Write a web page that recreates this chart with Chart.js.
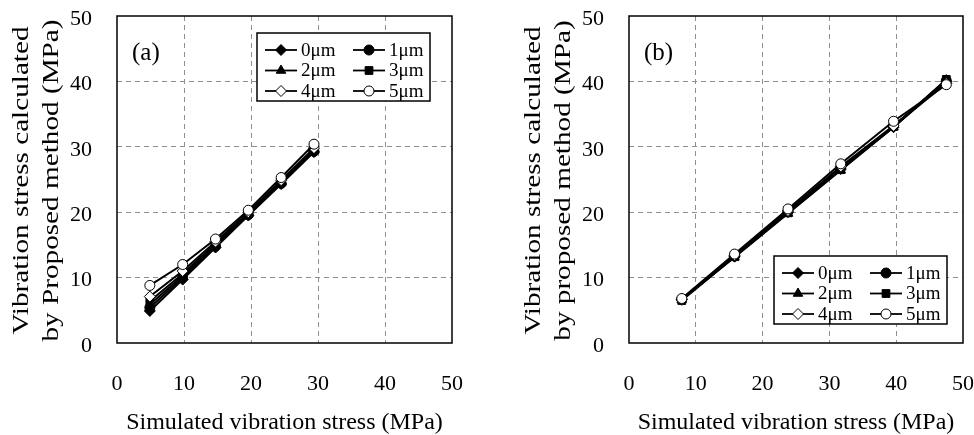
<!DOCTYPE html>
<html>
<head>
<meta charset="utf-8">
<script src="https://cdn.jsdelivr.net/npm/chart.js@4.4.1/dist/chart.umd.min.js"></script>
<style>
  html, body { margin: 0; padding: 0; background: #fff; }
  #wrap { position: relative; width: 974px; height: 435px; }
  canvas { position: absolute; top: 0; }
  #chartA { left: 0; }
  #chartB { left: 487px; }
</style>
</head>
<body>
<div id="wrap">
  <canvas id="chartA" width="487" height="435"></canvas>
  <canvas id="chartB" width="487" height="435"></canvas>
</div>
<script>
// gap sizes (legend labels) and shared axis ticks
const gapLabels = ['0μm', '1μm', '2μm', '3μm', '4μm', '5μm'];
const axisTicks = [0, 10, 20, 30, 40, 50];

// panel (a): simulated stress and calculated stress for each gap
const simulatedA = [4.9, 9.8, 14.7, 19.6, 24.5, 29.4];
const calcA_0um = [4.9, 9.7, 14.6, 19.5, 24.3, 29.2];
const calcA_1um = [5.4, 10.0, 14.8, 19.6, 24.4, 29.3];
const calcA_2um = [5.9, 10.3, 15.0, 19.7, 24.5, 29.4];
const calcA_3um = [6.4, 10.6, 15.2, 19.8, 24.6, 29.5];
const calcA_4um = [7.1, 11.0, 15.5, 20.0, 24.9, 29.8];
const calcA_5um = [8.8, 12.0, 15.9, 20.3, 25.3, 30.4];

// panel (b)
const simulatedB = [7.9, 15.8, 23.8, 31.7, 39.6, 47.5];
const calcB_0um = [6.6, 13.2, 20.0, 26.6, 33.0, 40.0];
const calcB_1um = [6.7, 13.3, 20.1, 26.8, 33.2, 40.1];
const calcB_2um = [6.6, 13.1, 19.8, 26.4, 33.0, 40.2];
const calcB_3um = [6.5, 13.2, 19.9, 26.5, 33.1, 40.3];
const calcB_4um = [6.7, 13.4, 20.2, 27.0, 33.2, 39.7];
const calcB_5um = [6.8, 13.6, 20.5, 27.4, 33.9, 39.5];

// marker look per gap: filled diamond, circle, triangle, square, then open diamond, circle
const markerStyles = ['rectRot', 'circle', 'triangle', 'rect', 'rectRot', 'circle'];
const markerFills = ['#000', '#000', '#000', '#000', '#fff', '#fff'];
const markerSizes = [5.5, 5, 5.5, 5.5, 5.5, 5];

const FONT = '"Liberation Serif", "Times New Roman", serif';

function buildDatasets(xs, series) {
  return series.map((ys, i) => ({
    label: gapLabels[i],
    data: xs.map((x, k) => ({ x: x, y: ys[k] })),
    borderColor: '#000',
    borderWidth: 2,
    pointStyle: markerStyles[i],
    pointRadius: markerSizes[i],
    pointBackgroundColor: markerFills[i],
    pointBorderColor: '#000',
    pointBorderWidth: 1,
    showLine: true,
    order: series.length - i   // open circles end up on top
  }));
}

// frame, panel letter, two-line rotated y title and boxed legend
const panelDecor = {
  id: 'panelDecor',
  afterDraw(chart, args, opts) {
    const { ctx, chartArea: a } = chart;
    ctx.save();
    ctx.strokeStyle = '#000';
    ctx.lineWidth = 1.5;
    ctx.strokeRect(a.left, a.top, a.right - a.left, a.bottom - a.top);

    ctx.fillStyle = '#000';
    ctx.font = '25px ' + FONT;
    ctx.textAlign = 'left';
    ctx.textBaseline = 'middle';
    ctx.fillText(opts.label, a.left + 15, a.top + 37);

    // y title, stretched along the axis
    ctx.font = '23px ' + FONT;
    ctx.textAlign = 'center';
    ctx.textBaseline = 'alphabetic';
    const cy = (a.top + a.bottom) / 2 + 1;
    opts.yTitle.forEach((line, i) => {
      ctx.save();
      ctx.translate(a.left - 89 + i * 30, cy);
      ctx.rotate(-Math.PI / 2);
      ctx.scale(1.27, 1);
      ctx.fillText(line, 0, 0);
      ctx.restore();
    });

    // legend box
    const bx = a.left + opts.legendX, by = a.top + opts.legendY;
    ctx.fillStyle = '#fff';
    ctx.fillRect(bx, by, 173, 68);
    ctx.strokeStyle = '#000';
    ctx.lineWidth = 1.5;
    ctx.strokeRect(bx, by, 173, 68);
    ctx.font = '19px ' + FONT;
    ctx.textAlign = 'left';
    ctx.textBaseline = 'middle';
    chart.data.datasets.forEach((ds, i) => {
      const lx = bx + (i % 2 ? 96 : 8);
      const ly = by + 17 + Math.floor(i / 2) * 20.5;
      ctx.strokeStyle = '#000';
      ctx.lineWidth = 1.8;
      ctx.beginPath();
      ctx.moveTo(lx, ly);
      ctx.lineTo(lx + 32, ly);
      ctx.stroke();
      ctx.fillStyle = ds.pointBackgroundColor;
      ctx.lineWidth = 1;
      Chart.helpers.drawPoint(ctx, { pointStyle: ds.pointStyle, radius: ds.pointRadius, borderWidth: 1, rotation: 0 }, lx + 16, ly);
      ctx.fillStyle = '#000';
      ctx.fillText(ds.label, lx + 36, ly + 1);
    });
    ctx.restore();
  }
};

function gridColor(c) {
  return (c.tick && (c.tick.value === 0 || c.tick.value === 50)) ? 'rgba(0,0,0,0)' : '#8e8e8e';
}

function makeOptions(padRight, yAxisWidth, deco) {
  return {
    responsive: false,
    animation: false,
    layout: { padding: { left: 0, right: padRight, top: 16, bottom: 0 } },
    plugins: { legend: { display: false }, tooltip: { enabled: false }, panelDecor: deco },
    scales: {
      x: {
        type: 'linear', min: 0, max: 50,
        afterBuildTicks: s => { s.ticks = axisTicks.map(v => ({ value: v })); },
        afterFit: s => { s.height = 92; s.paddingLeft = 0; s.paddingRight = 0; },
        grid: { color: gridColor, lineWidth: 1, drawTicks: false },
        border: { display: false, dash: [5, 4] },
        ticks: { color: '#000', padding: 28, font: { family: FONT, size: 22 }, maxRotation: 0 },
        title: {
          display: true, text: 'Simulated vibration stress (MPa)', color: '#000',
          font: { family: FONT, size: 24, lineHeight: 1 }, padding: { top: 0, bottom: 0 }
        }
      },
      y: {
        type: 'linear', min: 0, max: 50,
        afterBuildTicks: s => { s.ticks = axisTicks.map(v => ({ value: v })); },
        afterFit: s => { s.width = yAxisWidth; s.paddingTop = 0; s.paddingBottom = 0; },
        grid: { color: gridColor, lineWidth: 1, drawTicks: false },
        border: { display: false, dash: [5, 4] },
        ticks: { color: '#000', padding: 25, labelOffset: 3, font: { family: FONT, size: 22 } }
      }
    }
  };
}

new Chart(document.getElementById('chartA'), {
  type: 'scatter',
  data: { datasets: buildDatasets(simulatedA, [calcA_0um, calcA_1um, calcA_2um, calcA_3um, calcA_4um, calcA_5um]) },
  options: makeOptions(35, 117, {
    label: '(a)',
    yTitle: ['Vibration stress calculated', 'by Proposed method (MPa)'],
    legendX: 140, legendY: 17
  }),
  plugins: [panelDecor]
});

new Chart(document.getElementById('chartB'), {
  type: 'scatter',
  data: { datasets: buildDatasets(simulatedB, [calcB_0um, calcB_1um, calcB_2um, calcB_3um, calcB_4um, calcB_5um]) },
  options: makeOptions(11, 142, {
    label: '(b)',
    yTitle: ['Vibration stress calculated', 'by proposed method (MPa)'],
    legendX: 145, legendY: 240
  }),
  plugins: [panelDecor]
});
</script>
</body>
</html>
